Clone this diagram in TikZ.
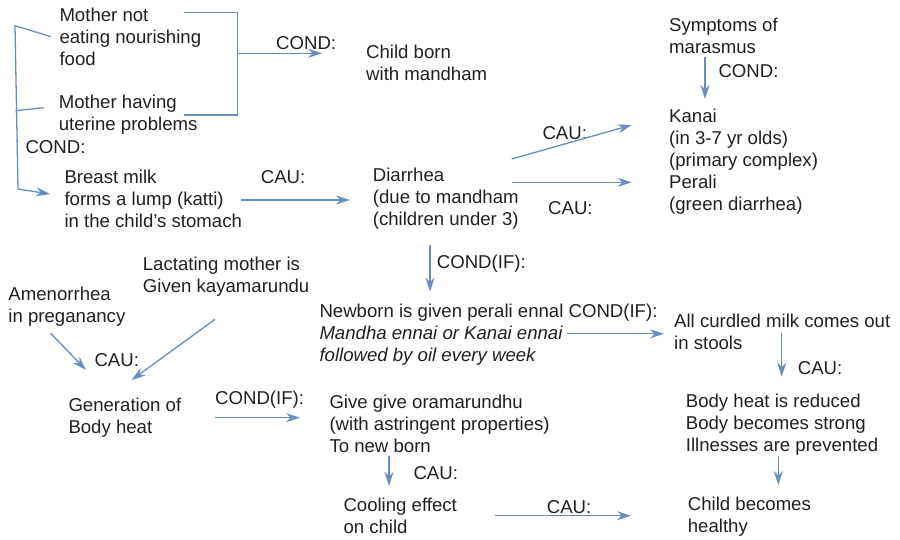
\documentclass[tikz,border=0pt]{standalone}
\usepackage{fontspec}
\setmainfont{Liberation Sans}
\usetikzlibrary{arrows.meta}
\definecolor{linkblue}{RGB}{104,142,192}
\definecolor{inkgray}{RGB}{35,31,32}
\begin{document}
\begin{tikzpicture}[x=1pt,y=-1pt,
  txt/.style={anchor=north west,inner sep=0pt,align=left,text=inkgray,yshift=-3pt,
    font=\fontsize{18.6}{22}\selectfont,execute at begin node=\strut},
  link/.style={draw=linkblue,line width=1.3pt},
  arr/.style={link,-{Stealth[length=14pt,width=9pt,inset=4.5pt]}}]
\useasboundingbox (0,0) rectangle (900,540);

% ---- text blocks (top edge = first baseline - 15.4) ----
\node[txt] (m1) at (59.3,5.3) {Mother not\\eating nourishing\\food};
\node[txt] (m2) at (58.7,91.6) {Mother having\\uterine problems};
\node[txt] (condA) at (25.3,135.3) {COND:};
\node[txt] (breast) at (64.3,167.3) {Breast milk\\forms a lump (katti)\\in the child’s stomach};
\node[txt] (condB) at (276,31.3) {COND:};
\node[txt] (child) at (366,41.9) {Child born\\with mandham};
\node[txt] (cauA) at (260.7,164.6) {CAU:};
\node[txt] (diarrhea) at (372.7,164.6) {Diarrhea\\(due to mandham\\(children under 3)};
\node[txt] (cauB) at (542.3,120.6) {CAU:};
\node[txt] (cauC) at (548,195.6) {CAU:};
\node[txt] (symptoms) at (669,15.3) {Symptoms of\\marasmus};
\node[txt] (condC) at (718.3,58.6) {COND:};
\node[txt] (kanai) at (669,106.3) {Kanai\\(in 3-7 yr olds)\\(primary complex)};
\node[txt] (perali) at (669,172.3) {Perali\\(green diarrhea)};
\node[txt] (condIFa) at (436.7,249.6) {COND(IF):};
\node[txt] (lact) at (142.7,253.4) {Lactating mother is\\Given kayamarundu};
\node[txt] (amen) at (8.3,283.4) {Amenorrhea\\in preganancy};
\node[txt] (cauD) at (94.3,347.9) {CAU:};
\node[txt] (heat) at (68.3,394.6) {Generation of\\Body heat};
\node[txt] (condIFb) at (215,385.6) {COND(IF):};
\node[txt] (newborn) at (319.3,300.6) {Newborn is given perali ennal COND(IF):\\\textit{Mandha ennai or Kanai ennai}\\\textit{followed by oil every week}};
\node[txt] (curdled) at (674,310.6) {All curdled milk comes out\\in stools};
\node[txt] (cauE) at (797.7,356.3) {CAU:};
\node[txt] (bodyheat) at (685.7,391.3) {Body heat is reduced\\Body becomes strong\\Illnesses are prevented};
\node[txt] (give) at (329.3,391.6) {Give give oramarundhu\\(with astringent properties)\\To new born};
\node[txt] (cauF) at (413.3,461.3) {CAU:};
\node[txt] (cooling) at (343.3,494.6) {Cooling effect\\on child};
\node[txt] (cauG) at (546.7,494.6) {CAU:};
\node[txt] (healthy) at (687.7,493.9) {Child becomes\\healthy};

% ---- connector end points ----
\coordinate (m1-l) at (51,36.7);
\coordinate (m2-l) at (43.7,107.7);
\coordinate (brL-top) at (15,25.7);
\coordinate (brL-mid) at (15.5,110.7);
\coordinate (brL-bot) at (18,189);
\coordinate (breast-in) at (50,194);
\coordinate (m1-r) at (184,12.3);
\coordinate (m2-r) at (184,115);
\coordinate (brR-top) at (237.3,12.3);
\coordinate (brR-bot) at (237.3,115);
\coordinate (brR-mid) at (237.3,53.3);
\coordinate (child-in) at (322,53.3);
\coordinate (breast-out) at (240.7,200);
\coordinate (diarrhea-in) at (350,200);
\coordinate (diarrhea-up) at (511.7,159);
\coordinate (kanai-in) at (631.7,125);
\coordinate (diarrhea-rt) at (511.7,182.3);
\coordinate (perali-in) at (631.7,182.3);
\coordinate (symptoms-out) at (705,56.7);
\coordinate (kanai-top) at (705,99);
\coordinate (diarrhea-dn) at (430,245);
\coordinate (newborn-top) at (430,291.7);
\coordinate (amen-out) at (50.7,333.3);
\coordinate (heat-a) at (86,370);
\coordinate (lact-out) at (215,319.3);
\coordinate (heat-b) at (131.7,380);
\coordinate (heat-out) at (215,417.7);
\coordinate (give-in) at (300,417.7);
\coordinate (newborn-out) at (566.7,333.8);
\coordinate (curdled-in) at (664,333.8);
\coordinate (curdled-dn) at (781.7,333.3);
\coordinate (bodyheat-top) at (781.7,376.7);
\coordinate (bodyheat-dn) at (778.3,456);
\coordinate (healthy-top) at (778.3,485);
\coordinate (give-dn) at (389,456);
\coordinate (cooling-top) at (389,486);
\coordinate (cooling-out) at (495,515.7);
\coordinate (healthy-in) at (631,515.7);

% ---- brackets joining the two causes ----
\draw[link] (m1-l) -- (brL-top) -- (brL-bot);
\draw[link] (m2-l) -- (brL-mid);
\draw[arr] (brL-bot) -- (breast-in);
\draw[link] (m1-r) -- (brR-top) -- (brR-bot) -- (m2-r);
\draw[arr] (brR-mid) -- (child-in);

% ---- arrows ----
\draw[arr] (breast-out) -- (diarrhea-in);
\draw[arr] (diarrhea-up) -- (kanai-in);
\draw[arr] (diarrhea-rt) -- (perali-in);
\draw[arr] (symptoms-out) -- (kanai-top);
\draw[arr] (diarrhea-dn) -- (newborn-top);
\draw[arr] (amen-out) -- (heat-a);
\draw[arr] (lact-out) -- (heat-b);
\draw[arr] (heat-out) -- (give-in);
\draw[arr] (newborn-out) -- (curdled-in);
\draw[arr] (curdled-dn) -- (bodyheat-top);
\draw[arr] (bodyheat-dn) -- (healthy-top);
\draw[arr] (give-dn) -- (cooling-top);
\draw[arr] (cooling-out) -- (healthy-in);
\end{tikzpicture}
\end{document}
